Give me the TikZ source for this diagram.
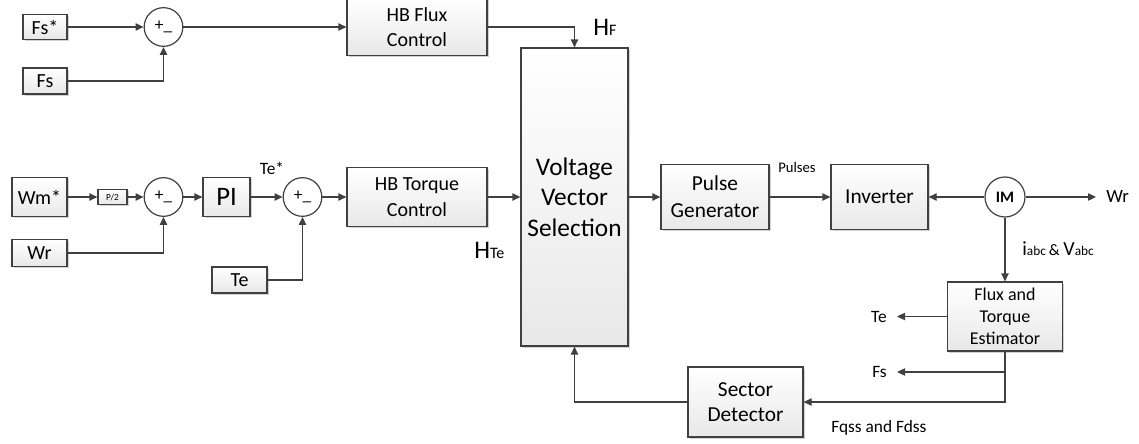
\documentclass[tikz,border=0pt]{standalone}
\usepackage{fontspec}
\setmainfont{Carlito}
\usetikzlibrary{arrows.meta,shadows}

\tikzset{
  sz/.style 2 args={minimum width=#1*0.75pt,minimum height=#2*0.75pt},
  blk/.style={draw=black!75,line width=0.9pt,top color=white,bottom color=black!9,
    drop shadow={shadow xshift=1.2pt,shadow yshift=-1.2pt,fill=black!35,opacity=.5},
    align=center,inner sep=0pt,font=\fontsize{15}{19}\selectfont},
  sumc/.style={draw=black!75,line width=0.9pt,circle,fill=white,inner sep=0pt,
    minimum size=29pt,font=\fontsize{13}{15}\selectfont},
  sig/.style={draw=black!75,line width=0.9pt,-{Triangle[length=6pt,width=5.5pt]}},
  lbl/.style={inner sep=0pt,font=\fontsize{13}{15}\selectfont}
}

\begin{document}
\begin{tikzpicture}[x=0.75pt,y=-0.75pt]
\useasboundingbox (0,0) rectangle (1139,443);

% flux loop
\node[blk,sz={44}{25}] (fsref) at (45,27) {Fs*};
\node[blk,sz={44}{26}] (fsfb) at (45,81) {Fs};
\node[sumc] (sumf) at (163.5,27) {+\_};
\node[blk,sz={140}{57}] (hbf) at (417,27) {HB Flux\\Control};

% speed / torque loop
\node[blk,sz={55}{39}] (wmref) at (39.5,197) {Wm*};
\node[blk,sz={55}{27}] (wr) at (39.5,253) {Wr};
\node[blk,sz={29}{15},font=\fontsize{7}{8}\selectfont] (pp) at (112.5,197) {P/2};
\node[sumc] (sumw) at (163.5,197) {+\_};
\node[blk,sz={47}{39},font=\fontsize{20}{22}\selectfont] (pi) at (226.5,197) {PI};
\node[sumc] (sumt) at (302.5,197) {+\_};
\node[blk,sz={55}{26}] (te) at (239.5,280) {Te};
\node[blk,sz={140}{59}] (hbt) at (417,197) {HB Torque\\Control};

% main path
\node[blk,sz={107}{298},font=\fontsize{19}{23}\selectfont] (vvs) at (574.5,197) {Voltage\\Vector\\Selection};
\node[blk,sz={108}{65},font=\fontsize{16}{20}\selectfont] (pg) at (715,197) {Pulse\\Generator};
\node[blk,sz={97}{65},font=\fontsize{16}{20}\selectfont] (inv) at (879.5,197) {Inverter};
\node[sumc,minimum size=30pt,font=\bfseries\fontsize{12}{14}\selectfont] (im) at (1005,197) {IM};
\node[blk,sz={115}{69},font=\fontsize{13.5}{16.5}\selectfont] (fte) at (1005,316.5) {Flux and\\Torque\\Estimator};
\node[blk,sz={115}{70},font=\fontsize{16}{19}\selectfont] (sd) at (745.5,402) {Sector\\Detector};

\coordinate (wrout) at (1096,197);
\coordinate (teout) at (897,316.5);
\coordinate (fsout) at (897,372);

% connectors
\draw[sig] (fsref) -- (sumf);
\draw[sig] (fsfb.east) -| (sumf.south);
\draw[sig] (sumf) -- (hbf);
\draw[sig] (hbf.east) -| (vvs.north);
\draw[sig] (wmref) -- (pp);
\draw[sig] (pp) -- (sumw);
\draw[sig] (sumw) -- (pi);
\draw[sig] (pi) -- (sumt);
\draw[sig] (wr.east) -| (sumw.south);
\draw[sig] (te.east) -| (sumt.south);
\draw[sig] (sumt) -- (hbt);
\draw[sig] (hbt) -- (vvs);
\draw[sig] (vvs) -- (pg);
\draw[sig] (pg) -- (inv);
\draw[sig] (im) -- (inv);
\draw[sig] (im) -- (wrout);
\draw[sig] (im) -- (fte);
\draw[sig] (fte.west) -- (teout);
\draw[sig] (fte.south) |- (sd.east);
\draw[sig] (fte.south |- fsout) -- (fsout);
\draw[sig] (sd.west) -| (vvs.south);

% labels
\node[lbl,anchor=west] (hflbl) at (593,27) {\fontsize{19}{21}\selectfont H\fontsize{12}{14}\selectfont F};
\node[lbl,anchor=west] (htelbl) at (474,250) {\fontsize{19}{21}\selectfont H\fontsize{12}{14}\selectfont Te};
\node[lbl] (testar) at (272,168) {Te*};
\node[lbl,font=\fontsize{11}{13}\selectfont] (pulses) at (797,167) {Pulses};
\node[lbl,font=\fontsize{14}{16}\selectfont,anchor=west] (wrlbl) at (1106,197) {Wr};
\node[lbl,anchor=west] (iv) at (1022,249) {\fontsize{15}{17}\selectfont i\fontsize{10}{12}\selectfont abc \fontsize{12}{14}\selectfont\& \fontsize{15}{17}\selectfont V\fontsize{10}{12}\selectfont abc};
\node[lbl,anchor=east] (telbl) at (887,316.5) {Te};
\node[lbl,anchor=east] (fslbl) at (887,372) {Fs};
\node[lbl,anchor=west] (fqd) at (831,428) {Fqss and Fdss};
\end{tikzpicture}
\end{document}
